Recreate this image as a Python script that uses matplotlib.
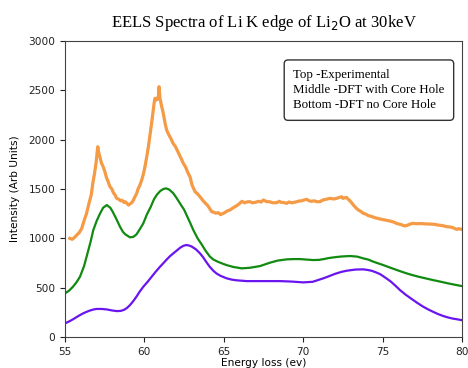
#!/usr/bin/env python3
"""
EELS spectra of the Li K edge of Li2O: experiment vs DFT.
"""

import matplotlib
matplotlib.use("Agg")
import matplotlib.pyplot as plt

# Top: experimental spectrum (energy in eV, intensity in arb. units)
exp_e = [55.3, 55.45, 55.6, 55.75, 55.9, 56.05, 56.2, 56.35, 56.5, 56.65,
         56.75, 56.85, 56.95, 57.06, 57.12, 57.2, 57.3, 57.4, 57.5, 57.6,
         57.7, 57.83, 57.95, 58.05, 58.15, 58.25, 58.4, 58.5, 58.6, 58.7,
         58.8, 58.9, 59.0, 59.1, 59.2, 59.3, 59.4, 59.5, 59.6, 59.72,
         59.83, 59.95, 60.05, 60.15, 60.25, 60.32, 60.4, 60.48, 60.56, 60.62,
         60.67, 60.74, 60.8, 60.85, 60.88, 60.92, 60.98, 61.03, 61.09, 61.17,
         61.25, 61.32, 61.4, 61.5, 61.6, 61.7, 61.8, 61.95, 62.1, 62.25,
         62.45, 62.6, 62.75, 62.87, 63.0, 63.19, 63.35, 63.5, 63.7, 63.85,
         64.0, 64.12, 64.24, 64.35, 64.5, 64.65, 64.8, 64.87, 65.0, 65.1,
         65.25, 65.39, 65.5, 65.7, 65.85, 66.0, 66.15, 66.3, 66.5, 66.65,
         66.8, 67.0, 67.2, 67.35, 67.49, 67.7, 67.9, 68.1, 68.33, 68.5,
         68.6, 68.8, 68.96, 69.1, 69.3, 69.45, 69.6, 69.75, 69.9, 70.05,
         70.22, 70.35, 70.5, 70.7, 70.85, 71.06, 71.2, 71.3, 71.5, 71.69,
         71.85, 72.0, 72.2, 72.42, 72.5, 72.6, 72.72, 72.84, 72.95, 73.05,
         73.15, 73.26, 73.38, 73.5, 73.65, 73.79, 73.95, 74.1, 74.3, 74.52,
         74.75, 75.0, 75.2, 75.47, 75.7, 75.9, 76.15, 76.41, 76.6, 76.75,
         76.93, 77.1, 77.4, 77.7, 77.98, 78.25, 78.5, 78.8, 79.04, 79.25,
         79.4, 79.55, 79.67, 79.8, 79.98]
exp_i = [1000, 990, 1010, 1035, 1060, 1100, 1180, 1250, 1350, 1440,
         1560, 1650, 1760, 1928, 1870, 1820, 1760, 1725, 1680, 1620,
         1580, 1523, 1500, 1460, 1440, 1405, 1395, 1380, 1385, 1365,
         1370, 1354, 1337, 1350, 1360, 1385, 1421, 1450, 1500, 1540,
         1591, 1660, 1740, 1830, 1928, 2010, 2100, 2200, 2300, 2380,
         2418, 2400, 2420, 2410, 2435, 2536, 2420, 2380, 2333, 2280,
         2210, 2150, 2097, 2060, 2030, 2000, 1962, 1930, 1880, 1830,
         1760, 1720, 1660, 1624, 1540, 1472, 1450, 1421, 1380, 1354,
         1330, 1300, 1270, 1265, 1255, 1260, 1240, 1246, 1255, 1265,
         1280, 1287, 1300, 1320, 1335, 1354, 1375, 1360, 1370, 1371,
         1360, 1365, 1375, 1368, 1388, 1372, 1370, 1360, 1361, 1375,
         1365, 1362, 1354, 1368, 1360, 1365, 1371, 1378, 1380, 1388,
         1395, 1382, 1375, 1380, 1371, 1371, 1385, 1390, 1398, 1405,
         1400, 1400, 1410, 1421, 1405, 1410, 1415, 1395, 1380, 1360,
         1340, 1320, 1300, 1285, 1270, 1253, 1245, 1230, 1222, 1209,
         1200, 1190, 1185, 1175, 1165, 1150, 1140, 1125, 1135, 1145,
         1152, 1148, 1150, 1146, 1145, 1142, 1135, 1128, 1118, 1115,
         1110, 1100, 1091, 1098, 1091]

# Middle: DFT with core hole
mid_e = [55.0, 55.25, 55.5, 55.72, 55.94, 56.2, 56.4, 56.6, 56.78, 57.0,
         57.2, 57.4, 57.63, 57.85, 58.0, 58.25, 58.46, 58.65, 58.8, 59.09,
         59.3, 59.5, 59.7, 59.93, 60.15, 60.4, 60.6, 60.77, 61.0, 61.2,
         61.36, 61.55, 61.8, 62.0, 62.24, 62.5, 62.7, 62.9, 63.08, 63.35,
         63.6, 63.85, 64.13, 64.35, 64.6, 64.9, 65.18, 65.6, 66.13, 66.65,
         67.28, 67.9, 68.4, 68.96, 69.4, 69.8, 70.2, 70.64, 71.0, 71.3,
         71.6, 71.9, 72.4, 72.95, 73.4, 73.79, 74.1, 74.4, 74.7, 75.05,
         75.4, 75.8, 76.15, 76.52, 76.9, 77.3, 77.7, 78.19, 78.6, 79.1,
         79.5, 79.98]
mid_i = [443, 470, 510, 555, 611, 720, 840, 960, 1084, 1180,
         1250, 1310, 1337, 1310, 1270, 1190, 1118, 1065, 1040, 1010,
         1015, 1040, 1090, 1152, 1240, 1320, 1395, 1439, 1480, 1500,
         1506, 1495, 1460, 1415, 1354, 1290, 1220, 1150, 1084, 1000,
         940, 875, 814, 785, 765, 745, 729, 710, 696, 702,
         719, 753, 775, 787, 790, 790, 785, 780, 782, 790,
         800, 807, 816, 821, 815, 797, 785, 765, 748, 729,
         708, 685, 665, 645, 627, 610, 595, 577, 563, 545,
         532, 517]

# Bottom: DFT without core hole
bot_e = [55.0, 55.25, 55.5, 55.72, 55.94, 56.2, 56.5, 56.75, 56.99, 57.3,
         57.63, 57.95, 58.26, 58.5, 58.7, 58.9, 59.09, 59.3, 59.5, 59.7,
         59.93, 60.2, 60.45, 60.7, 60.98, 61.2, 61.4, 61.6, 61.82, 62.05,
         62.25, 62.45, 62.62, 62.8, 63.0, 63.25, 63.5, 63.7, 63.9, 64.1,
         64.34, 64.55, 64.8, 65.18, 65.5, 65.8, 66.44, 67.5, 68.54, 69.3,
         70.0, 70.6, 71.27, 71.6, 72.0, 72.4, 72.74, 73.3, 73.79, 74.05,
         74.3, 74.55, 74.84, 75.15, 75.5, 75.8, 76.1, 76.45, 76.8, 77.2,
         77.57, 77.9, 78.2, 78.5, 78.83, 79.1, 79.4, 79.7, 79.98]
bot_i = [139, 158, 180, 202, 223, 245, 265, 278, 285, 285,
         280, 270, 263, 265, 275, 295, 324, 365, 410, 460,
         510, 560, 610, 660, 712, 750, 785, 818, 848, 878,
         905, 924, 932, 928, 915, 888, 848, 808, 760, 715,
         672, 643, 620, 595, 582, 575, 567, 567, 567, 562,
         554, 560, 595, 615, 640, 660, 672, 684, 686, 680,
         672, 658, 638, 605, 565, 522, 476, 430, 390, 345,
         307, 278, 255, 233, 213, 200, 188, 180, 172]

x_ticks = [55, 60, 65, 70, 75, 80]
y_ticks = [0, 500, 1000, 1500, 2000, 2500, 3000]

legend_text = ("Top -Experimental\n"
               "Middle -DFT with Core Hole\n"
               "Bottom -DFT no Core Hole")

fig = plt.figure(figsize=(4.68, 3.68), dpi=100)
ax = fig.add_axes([0.139, 0.084, 0.848, 0.805])

ax.plot(exp_e, exp_i, color='#f59a45', lw=2.3)
ax.plot(mid_e, mid_i, color='#108a10', lw=1.6)
ax.plot(bot_e, bot_i, color='#6a14f0', lw=1.6)

ax.set_xlim(55, 80)
ax.set_ylim(0, 3000)
ax.set_xticks(x_ticks)
ax.set_yticks(y_ticks)
ax.tick_params(labelsize=7.6, length=3.5, width=0.8, colors='#222222')
for s in ax.spines.values():
    s.set_color('#444444')

ax.set_xlabel("Energy loss (ev)", fontsize=7.6, labelpad=0.5)
ax.set_ylabel("Intensity (Arb Units)", fontsize=7.6, labelpad=6)

# Title in a Times-like face with a lowered "2"
ax.set_title("EELS Spectra of Li K edge of Li$_{2}$O at 30keV",
             fontsize=12, family='Liberation Serif', pad=10)

ax.text(0.575, 0.905, legend_text, transform=ax.transAxes,
        fontsize=9.3, family='Liberation Serif', va='top', ha='left',
        linespacing=1.35,
        bbox=dict(boxstyle='round,pad=0.7,rounding_size=0.3',
                  fc='white', ec='#333333', lw=1.0))

fig.savefig("out.png", dpi=100)
